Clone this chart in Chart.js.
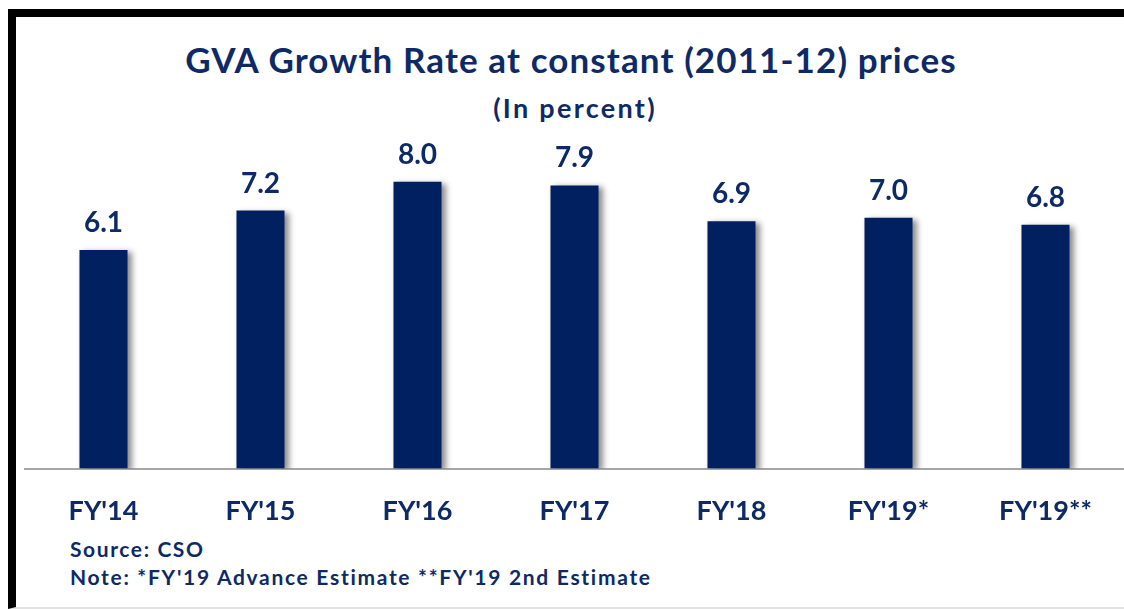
<!DOCTYPE html>
<html>
<head>
<meta charset="utf-8">
<script src="https://cdn.jsdelivr.net/npm/chart.js@4/dist/chart.umd.min.js"></script>
<style>
  html, body { margin: 0; padding: 0; background: #fff; }
  #stage { position: relative; width: 1124px; height: 609px; overflow: hidden; background: #fff; }
  #frame { position: absolute; left: 8px; top: 9px; right: 0; bottom: 0;
           border-top: 8px solid #000; border-left: 8px solid #000;
           border-bottom: 2px solid #e2e2e2; box-sizing: border-box; }
  #chart { position: absolute; left: 0; top: 0; }
  .txt { position: absolute; color: #0e2a66; font-family: Lato, "Open Sans", sans-serif;
         font-weight: bold; white-space: nowrap; line-height: 1; }
  #title { left: 16px; right: 0; text-align: center; top: 42px; font-size: 35px; letter-spacing: 1.1px; padding-left: 2px; }
  #subtitle { left: 16px; right: 0; text-align: center; top: 94px; font-size: 27px; letter-spacing: 2.3px; padding-left: 10px; }
  #source { left: 70px; top: 538px; font-size: 21px; letter-spacing: 1.6px; }
  #note { left: 70px; top: 566px; font-size: 21px; letter-spacing: 1.7px; }
</style>
</head>
<body>
<div id="stage">
  <div id="frame"></div>
  <div class="txt" id="title">GVA Growth Rate at constant (2011-12) prices</div>
  <div class="txt" id="subtitle">(In percent)</div>
  <div class="txt" id="source">Source: CSO</div>
  <div class="txt" id="note">Note: *FY'19 Advance Estimate **FY'19 2nd Estimate</div>
  <canvas id="chart" width="1124" height="609"></canvas>
</div>
<script>
// Fiscal years and GVA growth (percent, constant 2011-12 prices)
const categories = ["FY'14", "FY'15", "FY'16", "FY'17", "FY'18", "FY'19*", "FY'19**"];
const growthRates = [6.1, 7.2, 8.0, 7.9, 6.9, 7.0, 6.8];
const yTicks = [0, 9];

const NAVY = '#002060';
const TEXT = '#0e2a66';

// Soft drop shadow behind the bars
const barShadow = {
  id: 'barShadow',
  beforeDatasetsDraw(chart) {
    const ctx = chart.ctx;
    ctx.save();
    ctx.shadowColor = 'rgba(0,0,0,0.45)';
    ctx.shadowBlur = 6;
    ctx.shadowOffsetX = 4;
    ctx.shadowOffsetY = 2;
  },
  afterDatasetsDraw(chart) {
    chart.ctx.restore();
  }
};

// Value printed above each bar
const valueLabels = {
  id: 'valueLabels',
  afterDatasetsDraw(chart) {
    const ctx = chart.ctx;
    const meta = chart.getDatasetMeta(0);
    const data = chart.data.datasets[0].data;
    ctx.save();
    ctx.font = 'bold 28px Lato, "Open Sans", sans-serif';
    ctx.fillStyle = TEXT;
    ctx.textAlign = 'center';
    ctx.textBaseline = 'alphabetic';
    meta.data.forEach((bar, i) => {
      ctx.fillText(data[i].toFixed(1), bar.x, bar.y - 18);
    });
    ctx.restore();
  }
};

new Chart(document.getElementById('chart'), {
  type: 'bar',
  data: {
    labels: categories,
    datasets: [{
      data: growthRates,
      backgroundColor: NAVY,
      borderWidth: 0,
      barPercentage: 0.306,
      categoryPercentage: 1.0
    }]
  },
  options: {
    responsive: false,
    animation: false,
    events: [],
    layout: { padding: { left: 25, right: 0, top: 146, bottom: 56 } },
    plugins: {
      legend: { display: false },
      title: { display: false },
      tooltip: { enabled: false }
    },
    scales: {
      x: {
        grid: { display: false, drawTicks: false },
        border: { display: true, color: '#a6a6a6', width: 2 },
        ticks: {
          color: TEXT,
          padding: 26,
          font: { family: 'Lato, "Open Sans", sans-serif', weight: 'bold', size: 27 }
        }
      },
      y: {
        display: false,
        min: yTicks[0],
        max: yTicks[1]
      }
    }
  },
  plugins: [barShadow, valueLabels]
});
</script>
</body>
</html>
